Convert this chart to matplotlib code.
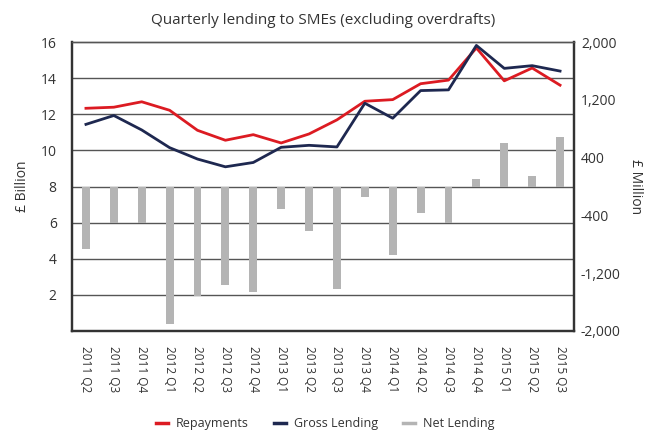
#!/usr/bin/env python3
"""Quarterly lending to SMEs chart."""

import matplotlib
matplotlib.use('Agg')
import matplotlib.pyplot as plt
import numpy as np
from matplotlib.lines import Line2D

#### DATA ####
quarters = ['2011 Q2', '2011 Q3', '2011 Q4',
            '2012 Q1', '2012 Q2', '2012 Q3', '2012 Q4',
            '2013 Q1', '2013 Q2', '2013 Q3', '2013 Q4',
            '2014 Q1', '2014 Q2', '2014 Q3', '2014 Q4',
            '2015 Q1', '2015 Q2', '2015 Q3']
repayments = [12.33, 12.39, 12.69, 12.22, 11.11, 10.56, 10.87, 10.41, 10.91,
              11.69, 12.72, 12.81, 13.69, 13.89, 15.67, 13.85, 14.56, 13.61]
grossLending = [11.44, 11.93, 11.13, 10.15, 9.52, 9.09, 9.33, 10.17, 10.28,
                10.19, 12.61, 11.78, 13.31, 13.35, 15.81, 14.54, 14.69, 14.39]
netLending = [-860, -510, -510, -1910, -1510, -1360, -1455, -305, -610,
              -1415, -150, -955, -360, -510, 105, 605, 150, 690]

leftTicks = [2, 4, 6, 8, 10, 12, 14, 16]
rightTicks = [-2000, -1200, -400, 400, 1200, 2000]

#### STYLE ####
dpi = 100
figsize = (657/dpi, 432/dpi)
red = '#dc1b22'
navy = '#1e2850'
grey = '#b4b4b4'
txt = '#333333'
plt.rcParams['font.family'] = ['Open Sans', 'DejaVu Sans']
plt.rcParams['text.color'] = txt

fig = plt.figure(figsize=figsize, dpi=dpi)
ax = fig.add_axes([72/657, 1-331/432, 502/657, 289/432])
ax2 = ax.twinx()
ax.set_zorder(2)
ax2.set_zorder(1)
ax.patch.set_visible(False)

x = np.arange(len(quarters))

# bars (right axis, £ million)
ax2.bar(x, netLending, width=0.28, color=grey, zorder=2)
ax2.set_ylim(-2000, 2000)
ax2.set_yticks(rightTicks)
ax2.set_yticklabels(['{:,}'.format(v) for v in rightTicks])
ax2.set_yticks(np.arange(-2000, 2001, 500), minor=True)
ax2.grid(True, which='minor', axis='y', color='#555555', linewidth=1.0, zorder=0)
ax2.set_axisbelow(True)
ax2.tick_params(axis='y', which='both', length=0, pad=5, labelsize=10, labelcolor=txt)
ax2.set_ylabel('£ Million', rotation=270, fontsize=10, labelpad=16, color=txt)

# lines (left axis, £ billion)
ax.plot(x, repayments, color=red, linewidth=2, zorder=3)
ax.plot(x, grossLending, color=navy, linewidth=2, zorder=3)
ax.set_ylim(0, 16)
ax.set_xlim(-0.5, len(quarters) - 0.5)
ax.set_yticks(leftTicks)
ax.tick_params(axis='y', length=0, pad=11, labelsize=10, labelcolor=txt)
ax.set_xticks(x)
ax.set_xticklabels(quarters, rotation=270, fontsize=8.5, color=txt)
ax.tick_params(axis='x', length=0, pad=11)
ax.set_ylabel('£ Billion', fontsize=10, labelpad=8, color=txt)

for a in (ax, ax2):
    for side in ['left', 'right', 'bottom']:
        a.spines[side].set_color('#333333')
        a.spines[side].set_linewidth(1.6)
    a.spines['top'].set_color('#555555')
    a.spines['top'].set_linewidth(1.0)

ax.set_title('Quarterly lending to SMEs (excluding overdrafts)', fontsize=11, pad=13, color=txt)

handles = [Line2D([0], [0], color=red, linewidth=2.5),
           Line2D([0], [0], color=navy, linewidth=2.5),
           Line2D([0], [0], color=grey, linewidth=2.5)]
fig.legend(handles, ['Repayments', 'Gross Lending', 'Net Lending'],
           loc='center', bbox_to_anchor=(325/657, 1-424/432), ncol=3, frameon=False,
           fontsize=9, handlelength=1.0, columnspacing=2.0, handletextpad=0.6)

plt.savefig('out.png', dpi=dpi)
